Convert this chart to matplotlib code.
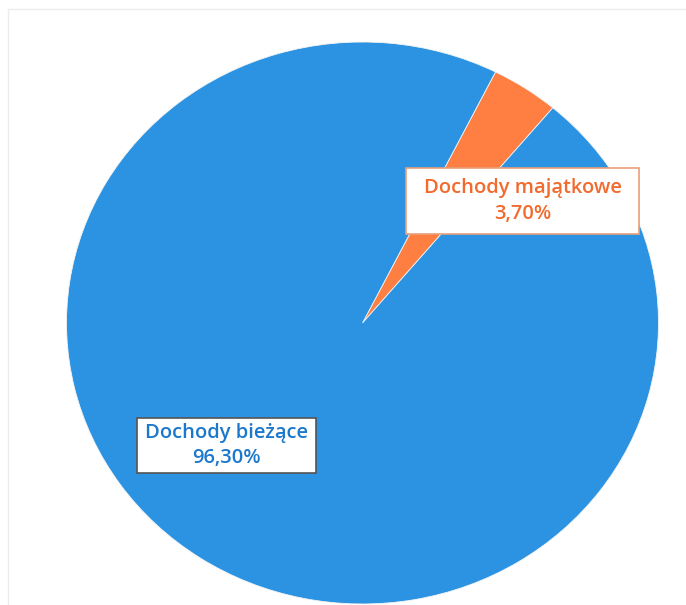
import matplotlib.pyplot as plt
import matplotlib.patches as mpatches

# ── data ──────────────────────────────────────────────
labels = ['Dochody majątkowe', 'Dochody bieżące']
shares = [3.70, 96.30]
pct_text = ['3,70%', '96,30%']

COLOR_BLUE = '#2B93E1'
COLOR_ORANGE = '#FF7E42'
TEXT_BLUE = '#1C78CC'
TEXT_ORANGE = '#F26A2E'

W, H = 686, 605
fig = plt.figure(figsize=(W / 100, H / 100), dpi=100)
ax = fig.add_axes([0, 0, 1, 1])

ax.pie(shares, colors=[COLOR_ORANGE, COLOR_BLUE], startangle=63.3,
       counterclock=False, wedgeprops=dict(linewidth=0.6, edgecolor='#f4f4f4'))

# ellipse as in the scanned original: centre at (362.5, 323) px, radii 296 x 281 px
cx, cy, rx, ry = 362.5, 323, 296, 281
ax.set_aspect('auto')
ax.set_xlim(-cx / rx, (W - cx) / rx)
ax.set_ylim(-(H - cy) / ry, cy / ry)
ax.axis('off')

# faint outer frame of the original chart area
fig.add_artist(mpatches.Rectangle((8 / W, -0.05), 1.2, (H - 9) / H + 0.05,
                                  transform=fig.transFigure, fill=False,
                                  edgecolor='#ececec', linewidth=1))

font = ['Open Sans', 'DejaVu Sans']


def label_box(x0, y0, x1, y1, text, color, edge):
    # px coords measured from top-left
    fig.add_artist(mpatches.Rectangle((x0 / W, 1 - y1 / H), (x1 - x0) / W, (y1 - y0) / H,
                                      transform=fig.transFigure, facecolor='white',
                                      edgecolor=edge, linewidth=1.2))
    fig.text((x0 + x1) / 2 / W, 1 - (y0 + y1) / 2 / H, text, ha='center', va='center',
             color=color, fontsize=14.5, fontweight='semibold', family=font,
             linespacing=1.38)


label_box(406, 168, 639, 234, f'{labels[0]}\n{pct_text[0]}', TEXT_ORANGE, '#E8A07A')
label_box(137, 418, 316, 473, f'{labels[1]}\n{pct_text[1]}', TEXT_BLUE, '#555555')

fig.savefig('out.png', dpi=100)
